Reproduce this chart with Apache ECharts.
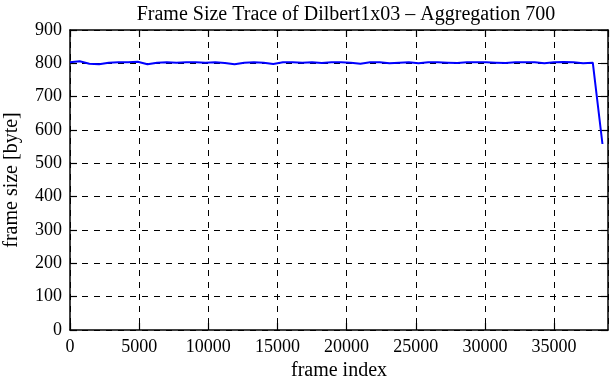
<!DOCTYPE html>
<html><head><meta charset="utf-8">
<script src="https://cdn.jsdelivr.net/npm/echarts@6/dist/echarts.min.js"></script>
<style>html,body{margin:0;padding:0;background:#fff}#c{width:611px;height:380px}</style>
</head><body><div id="c"></div>
<script>
const frameIndex = [0,700,1400,2100,2800,3500,4200,4900,5600,6300,7000,7700,8400,9100,9800,10500,11200,11900,12600,13300,14000,14700,15400,16100,16800,17500,18200,18900,19600,20300,21000,21700,22400,23100,23800,24500,25200,25900,26600,27300,28000,28700,29400,30100,30800,31500,32200,32900,33600,34300,35000,35700,36400,37100,37800,38500];
const frameSize = [803,806,799,797,802,803,803,805,797,802,803,802,803,803,802,803,801,797,802,803,802,798,803,803,802,803,801,803,803,802,799,803,803,800,802,803,800,803,803,802,801,803,803,803,802,801,803,803,803,800,803,804,803,800,802,558];
const xTicks = [0,5000,10000,15000,20000,25000,30000,35000];
const yTicks = [0,100,200,300,400,500,600,700,800,900];

const font = 'Liberation Serif';
const chart = echarts.init(document.getElementById('c'));
const axisLine = {show:true, onZero:false, lineStyle:{color:'#000', width:1.5}};
const tick = {show:true, inside:true, length:7, lineStyle:{color:'#000', width:1.2}};
chart.setOption({
  animation:false,
  backgroundColor:'#fff',
  title:{text:'Frame Size Trace of Dilbert1x03 \u2013 Aggregation 700', left:341, textAlign:'center', top:0,
    textStyle:{fontFamily:font, fontWeight:'normal', fontSize:20, color:'#000'}},
  grid:{left:70, right:3, top:30, bottom:50, containLabel:false, outerBoundsMode:'none'},
  xAxis:[{
    type:'value', min:0, max:38900, interval:5000,
    name:'frame index', nameLocation:'middle', nameGap:30,
    nameTextStyle:{fontFamily:font, fontSize:20, color:'#000'},
    axisLine:axisLine, axisTick:tick,
    axisLabel:{fontFamily:font, fontSize:18, color:'#000', margin:8, showMaxLabel:false,
      formatter:v => xTicks.includes(v) ? String(v) : ''},
    splitLine:{show:true, lineStyle:{color:'#000', type:[6,6], width:1}}
  },{
    type:'value', position:'top', min:0, max:38900, interval:5000,
    axisLine:axisLine, axisTick:tick, axisLabel:{show:false}, splitLine:{show:false}
  }],
  yAxis:[{
    type:'value', min:0, max:900, interval:100,
    name:'frame size [byte]', nameLocation:'middle', nameGap:48,
    nameTextStyle:{fontFamily:font, fontSize:20, color:'#000'},
    axisLine:axisLine, axisTick:tick,
    axisLabel:{fontFamily:font, fontSize:18, color:'#000', margin:8,
      formatter:v => yTicks.includes(v) ? String(v) : ''},
    splitLine:{show:true, lineStyle:{color:'#000', type:[6,6], width:1}}
  },{
    type:'value', position:'right', min:0, max:900, interval:100,
    axisLine:axisLine, axisTick:tick, axisLabel:{show:false}, splitLine:{show:false}
  }],
  series:[{
    type:'line', xAxisIndex:0, yAxisIndex:0,
    data:frameIndex.map((x,i)=>[x, frameSize[i]]),
    showSymbol:false, symbol:'none',
    lineStyle:{color:'#0000ff', width:2}
  }]
});
</script></body></html>
